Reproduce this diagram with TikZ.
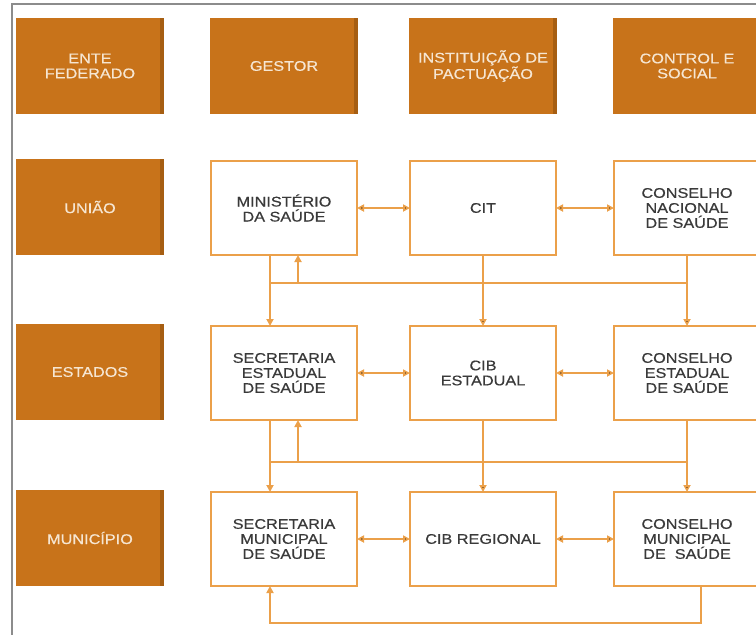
\documentclass[tikz,border=0pt]{standalone}
\usepackage{fontspec}
\setmainfont[FakeBold=0.5,FakeStretch=1.16]{Liberation Sans}
\usetikzlibrary{positioning,arrows.meta}
\definecolor{laranja}{HTML}{C8731A}
\definecolor{laranjaesc}{HTML}{A65E12}
\definecolor{linha}{HTML}{EBA04A}
\definecolor{creme}{HTML}{F6E6D2}
\definecolor{cinza}{HTML}{3A3A3A}
\definecolor{moldura}{HTML}{8C8C8C}
\begin{document}
\begin{tikzpicture}[x=1pt,y=1pt,>={Triangle[length=7pt,width=7pt]},
    every node/.style={font=\fontsize{14}{15}\selectfont, align=center, inner sep=0pt, outer sep=0pt},
    cabeca/.style={fill=laranja, text=creme, minimum width=148pt, minimum height=96pt,
        path picture={\fill[laranjaesc] ([xshift=-4pt]path picture bounding box.north east) rectangle (path picture bounding box.south east);}},
    caixa/.style={draw=linha, line width=2pt, fill=white, text=cinza, minimum width=146pt, minimum height=94pt},
    seta/.style={draw=linha, line width=2pt}]
    \useasboundingbox (0,0) rectangle (756,-635);
    \clip (0,0) rectangle (756,-635);
    \draw[moldura, line width=1.5pt] (760,-4) -- (12,-4) -- (12,-640);

    \node[cabeca] (ente) at (90,-66) {ENTE\\FEDERADO};
    \node[cabeca] (gestor) [right=46pt of ente] {GESTOR};
    \node[cabeca] (pact) [right=51pt of gestor] {INSTITUIÇÃO DE\\PACTUAÇÃO};
    \node[cabeca] (social) [right=56pt of pact] {CONTROL E\\SOCIAL};

    \node[cabeca] (uniao) [below=45pt of ente] {UNIÃO};
    \node[caixa] (ms) [below=47pt of gestor] {MINISTÉRIO\\DA SAÚDE};
    \node[caixa] (cit) [below=47pt of pact] {CIT};
    \node[caixa] (cns) [below=47pt of social] {CONSELHO\\NACIONAL\\DE SAÚDE};

    \node[cabeca] (estados) [below=69pt of uniao] {ESTADOS};
    \node[caixa] (ses) [below=71pt of ms] {SECRETARIA\\ESTADUAL\\DE SAÚDE};
    \node[caixa] (cibe) [below=71pt of cit] {CIB\\ESTADUAL};
    \node[caixa] (ces) [below=71pt of cns] {CONSELHO\\ESTADUAL\\DE SAÚDE};

    \node[cabeca] (municipio) [below=70pt of estados] {MUNICÍPIO};
    \node[caixa] (sms) [below=72pt of ses] {SECRETARIA\\MUNICIPAL\\DE SAÚDE};
    \node[caixa] (cibr) [below=72pt of cibe] {CIB REGIONAL};
    \node[caixa] (cms) [below=72pt of ces] {CONSELHO\\MUNICIPAL\\DE\ \ SAÚDE};

    \coordinate (bus1) at (0,-283);
    \coordinate (bus2) at (0,-462);
    \coordinate (bus3) at (0,-623);

    \path[seta] (ms) edge[<->] (cit)
          (cit) edge[<->] (cns)
          (ses) edge[<->] (cibe)
          (cibe) edge[<->] (ces)
          (sms) edge[<->] (cibr)
          (cibr) edge[<->] (cms)
          (cit) edge[->] (cibe)
          (cns) edge[->] (ces)
          (cibe) edge[->] (cibr)
          (ces) edge[->] (cms);

    \draw[seta,->] ([xshift=-14pt]ms.south) -- ([xshift=-14pt]ses.north);
    \draw[seta] ([xshift=-14pt]ms.south |- bus1) -- (cns.south |- bus1);
    \draw[seta,->] ([xshift=14pt]ms.south |- bus1) -- ([xshift=14pt]ms.south);

    \draw[seta,->] ([xshift=-14pt]ses.south) -- ([xshift=-14pt]sms.north);
    \draw[seta] ([xshift=-14pt]ses.south |- bus2) -- (ces.south |- bus2);
    \draw[seta,->] ([xshift=14pt]ses.south |- bus2) -- ([xshift=14pt]ses.south);

    \draw[seta,->] ([xshift=14pt]cms.south) -- ([xshift=14pt]cms.south |- bus3)
        -- ([xshift=-14pt]sms.south |- bus3) -- ([xshift=-14pt]sms.south);
\end{tikzpicture}
\end{document}
